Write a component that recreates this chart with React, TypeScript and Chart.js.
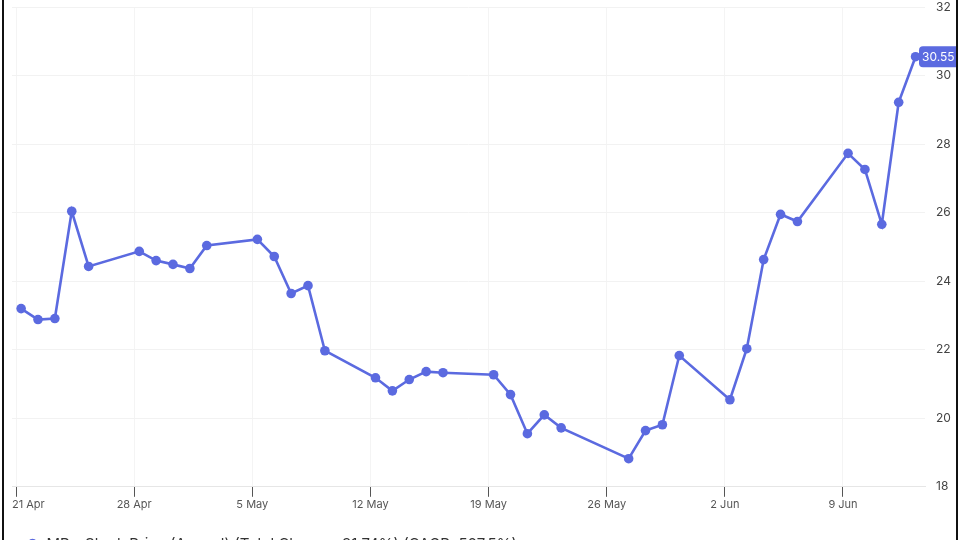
import React, { useEffect, useRef } from "react";
import { Chart, registerables } from "chart.js";

Chart.register(...registerables);

const START_DATE = "2025-04-21";
const SESSION_OFFSET_DAYS = 0.3;

const dates = [
  "2025-04-21", "2025-04-22", "2025-04-23", "2025-04-24", "2025-04-25",
  "2025-04-28", "2025-04-29", "2025-04-30", "2025-05-01", "2025-05-02",
  "2025-05-05", "2025-05-06", "2025-05-07", "2025-05-08", "2025-05-09",
  "2025-05-12", "2025-05-13", "2025-05-14", "2025-05-15", "2025-05-16",
  "2025-05-19", "2025-05-20", "2025-05-21", "2025-05-22", "2025-05-23",
  "2025-05-27", "2025-05-28", "2025-05-29", "2025-05-30",
  "2025-06-02", "2025-06-03", "2025-06-04", "2025-06-05", "2025-06-06",
  "2025-06-09", "2025-06-10", "2025-06-11", "2025-06-12", "2025-06-13",
];

const prices = [
  23.2, 22.88, 22.91, 26.04, 24.43,
  24.87, 24.6, 24.49, 24.37, 25.04,
  25.22, 24.72, 23.64, 23.87, 21.97,
  21.18, 20.8, 21.13, 21.36, 21.33,
  21.27, 20.69, 19.55, 20.1, 19.72,
  18.82, 19.64, 19.81, 21.83,
  20.54, 22.03, 24.63, 25.95, 25.74,
  27.73, 27.26, 25.66, 29.22, 30.55,
];

const tickDates = [
  "2025-04-21", "2025-04-28", "2025-05-05", "2025-05-12",
  "2025-05-19", "2025-05-26", "2025-06-02", "2025-06-09",
];

const yTicks = [18, 20, 22, 24, 26, 28, 30, 32];

const seriesLabel =
  "MP - Stock Price (Annual) (Total Change: 31.74%) (CAGR: 527.5%)";

const MONTHS = ["Jan", "Feb", "Mar", "Apr", "May", "Jun", "Jul", "Aug", "Sep", "Oct", "Nov", "Dec"];

const LINE_COLOR = "#5b6ae0";
const FONT = "Inter, 'Noto Sans', sans-serif";

function dayIndex(s: string): number {
  return (Date.parse(s + "T00:00:00Z") - Date.parse(START_DATE + "T00:00:00Z")) / 86400000;
}

function formatDay(v: number): string {
  const d = new Date(Date.parse(START_DATE + "T00:00:00Z") + Math.round(v) * 86400000);
  return `${d.getUTCDate()} ${MONTHS[d.getUTCMonth()]}`;
}

const xLabelPlugin = {
  id: "xLabelPlugin",
  afterDraw(chart: any) {
    const scale = chart.scales.x;
    const ctx = chart.ctx;
    const area = chart.chartArea;
    ctx.save();
    ctx.font = `11px ${FONT}`;
    ctx.fillStyle = "#555";
    ctx.textBaseline = "alphabetic";
    ctx.textAlign = "left";
    for (const t of scale.ticks) {
      const x = scale.getPixelForValue(t.value);
      const text = formatDay(t.value);
      const w = ctx.measureText(text).width;
      const left = Math.max(x - w / 2, area.left);
      ctx.fillText(text, left, area.bottom + 21);
    }
    ctx.restore();
  },
};

const lastValuePlugin = {
  id: "lastValuePlugin",
  afterDatasetsDraw(chart: any) {
    const meta = chart.getDatasetMeta(0);
    const pt = meta.data[meta.data.length - 1];
    const ds = chart.data.datasets[0];
    const v = ds.data[ds.data.length - 1].y;
    const ctx = chart.ctx;
    const area = chart.chartArea;
    const x0 = area.right - 6;
    const h = 21;
    const y0 = pt.y - h / 2;
    ctx.save();
    ctx.fillStyle = LINE_COLOR;
    ctx.beginPath();
    ctx.roundRect(x0, y0, chart.width - x0 + 6, h, 4);
    ctx.fill();
    ctx.fillStyle = "#ffffff";
    ctx.font = `12px ${FONT}`;
    ctx.textBaseline = "middle";
    ctx.textAlign = "left";
    ctx.fillText(v.toFixed(2), x0 + 3, pt.y + 1);
    ctx.restore();
  },
};

export default function App() {
  const ref = useRef<HTMLCanvasElement>(null);

  useEffect(() => {
    if (!ref.current) return;
    const points = dates.map((d, i) => ({ x: dayIndex(d) + SESSION_OFFSET_DAYS, y: prices[i] }));
    const tickValues = tickDates.map(dayIndex);
    const chart = new Chart(ref.current, {
      type: "line",
      data: {
        datasets: [
          {
            label: seriesLabel,
            data: points,
            borderColor: LINE_COLOR,
            backgroundColor: LINE_COLOR,
            pointBackgroundColor: LINE_COLOR,
            pointBorderColor: LINE_COLOR,
            pointRadius: 4.8,
            pointBorderWidth: 0,
            borderWidth: 2.6,
            tension: 0,
            clip: false as any,
          },
        ],
      },
      options: {
        responsive: false,
        maintainAspectRatio: false,
        animation: false,
        layout: { padding: { left: 8, top: 7, right: 0, bottom: 0 } },
        plugins: {
          tooltip: { enabled: false },
          legend: {
            position: "bottom",
            align: "start",
            labels: {
              usePointStyle: true,
              pointStyle: "circle",
              boxWidth: 13,
              boxHeight: 8,
              padding: 14,
              color: "#333",
              font: { family: FONT, size: 15 },
            },
          },
        },
        scales: {
          x: {
            type: "linear",
            min: -0.24,
            max: 53.86,
            afterBuildTicks: (s: any) => {
              s.ticks = tickValues.map((v) => ({ value: v }));
            },
            afterFit: (s: any) => {
              s.paddingLeft = 0;
              s.paddingRight = 0;
              s.height += 5;
            },
            grid: {
              color: "#f4f4f4",
              tickColor: "#555",
              tickLength: 10,
            },
            border: { color: "#e6e6e6" },
            ticks: {
              color: "rgba(0,0,0,0)",
              font: { family: FONT, size: 11 },
              padding: 4,
              maxRotation: 0,
              autoSkip: false,
              callback: (v: any) => formatDay(Number(v)),
            },
          },
          y: {
            position: "right",
            min: 18,
            max: 32,
            afterBuildTicks: (s: any) => {
              s.ticks = yTicks.map((v) => ({ value: v }));
            },
            afterFit: (s: any) => {
              s.width = 31;
              s.paddingTop = 0;
              s.paddingBottom = 0;
            },
            grid: { color: "#f2f2f2", drawTicks: false },
            border: { display: false },
            ticks: {
              color: "#444",
              padding: 11,
              font: { family: FONT, size: 12 },
            },
          },
        },
      },
      plugins: [xLabelPlugin, lastValuePlugin],
    } as any);
    return () => chart.destroy();
  }, []);

  return (
    <div style={{ position: "fixed", left: 0, top: 0, width: 960, height: 540, overflow: "hidden", background: "#fff" }}>
      <canvas ref={ref} width={952} height={562} style={{ position: "absolute", left: 4, top: 0 }} />
      <div style={{ position: "absolute", left: 2, top: 0, width: 2, height: 540, background: "#111" }} />
      <div style={{ position: "absolute", left: 956, top: 0, width: 2, height: 540, background: "#111" }} />
    </div>
  );
}
